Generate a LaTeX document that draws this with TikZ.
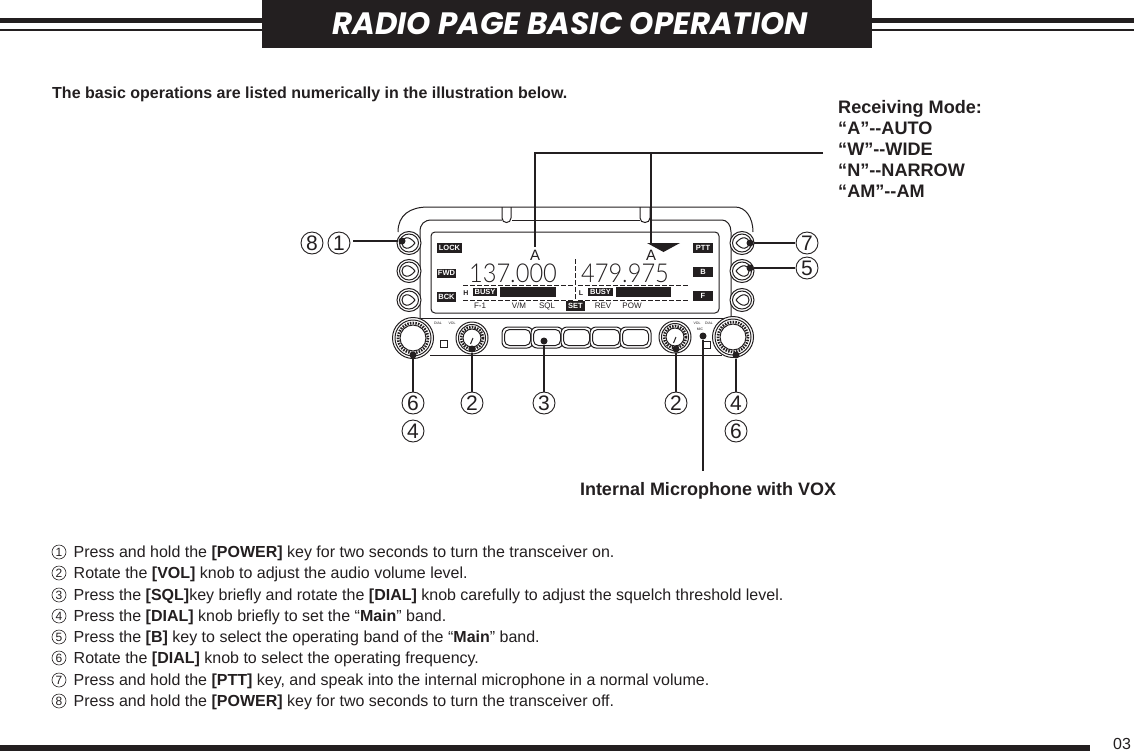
\documentclass[tikz,border=0pt]{standalone}
\usepackage{fontspec}
\setmainfont{Liberation Sans}
\newfontfamily\titlefont{Poppins}
\newfontfamily\segfont{Lato Light}
\usetikzlibrary{shapes.geometric,calc}
\definecolor{ink}{HTML}{231F20}
\newcommand{\px}[1]{\fontsize{#1}{#1}\selectfont}
\tikzset{
  x=1pt,y=-1pt,
  leader/.style={draw=ink,line width=2.6pt},
  dot/.style={circle,fill=ink,inner sep=0pt,minimum size=7pt},
  bignum/.style={circle,draw=ink,line width=.9pt,minimum size=22pt,inner sep=0pt,text=ink,font=\px{21}},
  steptext/.style={anchor=base west,inner sep=0pt,text=ink,font=\px{16}},
  smallnum/.style={circle,draw=ink,line width=.6pt,minimum size=14pt,inner sep=0pt,text=ink,font=\px{12}},
  label/.style={anchor=base west,inner sep=0pt,text=ink,font=\bfseries\px{18.1}},
  outline/.style={draw=ink,line width=1pt},
  inv/.style={fill=ink,text=white,inner sep=0pt,font=\bfseries\px{7.5}},
  lcd/.style={inner sep=0pt,text=ink,font=\px{8}},
  seg/.style={inner sep=0pt,text=ink,font=\segfont\px{26},xscale=.91},
  dashline/.style={draw=ink,line width=.9pt,dash pattern=on 5pt off 2pt},
  tiny/.style={inner sep=0pt,text=ink,font=\px{3.5}},
}
\newcommand{\sidebutton}[2]{%
  \draw[outline,fill=white] (#1,#2) ellipse (12 and 11.5);
  \draw[outline] (#1,#2) ellipse (9.5 and 9);
}
\newcommand{\knob}[4]{%
  \draw[outline,fill=white] (#1,#2) circle (#3);
  \draw[outline] (#1,#2) circle (#3-2.5);
  \draw[draw=ink,line width=2.6pt,dash pattern=on 1.5pt off 1.2pt] (#1,#2) circle (#4+2);
  \draw[outline] (#1,#2) circle (#4);
}
\newcommand{\softkey}[2]{%
  \draw[outline,rounded corners=6pt,fill=white] (#1,327) rectangle (#2,348);
  \draw[outline,rounded corners=5pt] (#1+2.5,329.5) rectangle (#2-2.5,345.5);
}
\begin{document}
\begin{tikzpicture}
\useasboundingbox (0,0) rectangle (1134,753);
\fill[white] (0,0) rectangle (1134,753);
% header
\fill[ink] (0,18) rectangle (262,23);
\fill[ink] (0,29) rectangle (262,31);
\fill[ink] (872,18) rectangle (1134,23);
\fill[ink] (872,29) rectangle (1134,31);
\node[fill=ink,minimum width=610pt,minimum height=48pt,inner sep=0pt,anchor=north west] (titlebox) at (262,0) {};
\node[text=white,inner sep=0pt,font=\titlefont\bfseries\itshape\px{30.9}] (title) at (570,24) {RADIO PAGE BASIC OPERATION};
\node[anchor=base west,inner sep=0pt,text=ink,font=\bfseries\px{16}] (intro) at (52,98) {The basic operations are listed numerically in the illustration below.};
% receiving mode
\node[label] (rm) at (838,113) {Receiving Mode:};
\node[label] (ra) at (838,134) {“A”-{}-AUTO};
\node[label] (rw) at (838,155) {“W”-{}-WIDE};
\node[label] (rn) at (838,176) {“N”-{}-NARROW};
\node[label] (ram) at (838,197) {“AM”-{}-AM};
% body
\draw[outline] (398,232) .. controls (398,215) and (410,207) .. (428,207) -- (735,207) .. controls (746,207) and (753,218) .. (753,232);
\draw[outline] (420,318) -- (420,232) .. controls (420,224) and (424,220) .. (432,220) -- (502,220);
\draw[outline] (512,220) -- (640,220);
\draw[outline] (650,220) -- (722,220) .. controls (727,220) and (731,225) .. (731,232) -- (731,318);
\draw[outline] (420,318) -- (731,318);
\draw[outline] (430,355) -- (722,355);
\draw[outline] (502,207) -- (502,218) .. controls (502,224) and (511,224) .. (511,218) -- (511,207);
\draw[outline] (640,207) -- (640,218) .. controls (640,224) and (650,224) .. (650,218) -- (650,207);
\draw[outline,rounded corners=4pt] (431,232) rectangle (719,313);
% side buttons
\sidebutton{409}{243}\sidebutton{409}{271}\sidebutton{409}{300}
\sidebutton{742}{243}\sidebutton{742}{271}\sidebutton{742}{300}
\foreach \y in {243,271,300}{\draw[outline] (415,\y) .. controls (409,\y-8) and (402,\y-6) .. (402,\y) .. controls (402,\y+6) and (409,\y+8) .. (415,\y);}
\foreach \y in {243,271,300}{\draw[outline] (736,\y) .. controls (742,\y-8) and (749,\y-6) .. (749,\y) .. controls (749,\y+6) and (742,\y+8) .. (736,\y);}
% inverted labels
\node[inv,minimum width=25pt,minimum height=10pt] (lock) at (449.5,248) {LOCK};
\node[inv,minimum width=19pt,minimum height=9pt] (fwd) at (446.5,273) {FWD};
\node[inv,minimum width=19pt,minimum height=10pt] (bck) at (446.5,297) {BCK};
\node[inv,minimum width=20pt,minimum height=10pt] (ptt) at (703,248) {PTT};
\node[inv,minimum width=20pt,minimum height=10pt] (bkey) at (703,272) {B};
\node[inv,minimum width=20pt,minimum height=10pt] (fkey) at (703,296) {F};
% lcd content
\node[inner sep=0pt,text=ink,font=\px{15}] (aleft) at (535,255) {A};
\node[inner sep=0pt,text=ink,font=\px{15}] (aright) at (651,255) {A};
\node[seg] (freqa) at (513,273) {137.000};
\node[seg] (freqb) at (625,273) {479.975};
\draw[dashline] (463,285) -- (573,285);
\draw[dashline] (463,300) -- (573,300);
\draw[dashline] (578,285) -- (688,285);
\draw[dashline] (578,300) -- (688,300);
\draw[dashline] (575,259) -- (575,300);
\node[inner sep=0pt,text=ink,font=\bfseries\px{7}] (hh) at (466,293) {H};
\node[inner sep=0pt,text=ink,font=\bfseries\px{7}] (ll) at (581,293) {L};
\node[inv,minimum width=24pt,minimum height=8.5pt] (busya) at (485,292) {BUSY};
\node[inv,minimum width=25pt,minimum height=8.5pt] (busyb) at (600.5,292) {BUSY};
\node[fill=ink,minimum width=56pt,minimum height=10pt,inner sep=0pt] (bara) at (528,292) {};
\node[fill=ink,minimum width=55pt,minimum height=10pt,inner sep=0pt] (barb) at (643.5,292) {};
\node[lcd] (f1) at (480,306) {F-1};
\node[lcd] (vm) at (519,306) {V/M};
\node[lcd] (sql) at (547,306) {SQL};
\node[inv,minimum width=19pt,minimum height=10pt] (setk) at (575.5,306) {SET};
\node[lcd] (rev) at (603,306) {REV};
\node[lcd] (pow) at (632,306) {POW};
\fill[ink] (647,243) -- (680,243) -- (663.5,252) -- cycle;
% centre keys
\softkey{502}{533}\softkey{531}{563}\softkey{561}{592}\softkey{590}{622}\softkey{620}{651}
% knobs
\knob{413}{338}{20.5}{13}
\knob{472}{338}{16}{9}
\knob{675}{337}{16}{9}
\knob{733}{337}{20.5}{13}
\draw[outline] (470.5,344) -- (473,338);
\draw[outline] (673.5,343) -- (676,337);
\node[tiny] (dl) at (438,323) {DIAL};
\node[tiny] (vl) at (452,323) {VOL};
\node[tiny] (vr) at (697,323) {VOL};
\node[tiny] (dr) at (709,323) {DIAL};
\node[tiny] (mc) at (700,329) {MIC};
\draw[outline,fill=white] (440.5,340.5) rectangle (447.5,347.5);
\draw[outline,fill=white] (703.5,341.5) rectangle (710.5,348.5);
% named anchor points
\coordinate (mtop) at (823,153);
\coordinate (mleft) at (535,153);
\coordinate (mright) at (651,153);
\coordinate (a1) at (535,247);
\coordinate (a2) at (651,245);
\node[dot] (d81) at (402,241) {};
\node[dot] (d7) at (750,243) {};
\node[dot] (d5) at (750,268) {};
\node[dot] (dk1) at (413,355) {};
\node[dot] (dk2) at (472,349) {};
\node[dot] (dk3) at (544,341) {};
\node[dot] (dk4) at (676,349) {};
\node[dot] (dk5) at (736,355) {};
\node[dot] (dm) at (703,336) {};
% callout numbers
\node[bignum] (n8) at (312,243) {8};
\node[bignum] (n1) at (339,243) {1};
\node[bignum] (n7) at (807,243) {7};
\node[bignum] (n5) at (807,268) {5};
\node[bignum] (n6a) at (413,403) {6};
\node[bignum] (n4a) at (413,431) {4};
\node[bignum] (n2a) at (472,403) {2};
\node[bignum] (n3) at (544,403) {3};
\node[bignum] (n2b) at (676,403) {2};
\node[bignum] (n4b) at (736,403) {4};
\node[bignum] (n6b) at (736,431) {6};
\node[inner sep=0pt,text=ink,font=\bfseries\px{18}] (mic) at (708,491) {Internal Microphone with VOX};
\coordinate (micend) at (703,471);
% connectors
\draw[leader] (mtop) -- (mleft) -- (a1);
\draw[leader] (mright) -- (a2);
\coordinate (c81) at (353,241);
\draw[leader] (c81) -- (d81);
\draw[leader] (d7) -- (795,243);
\draw[leader] (d5) -- (795,268);
\draw[leader] (dk1) -- (n6a.north);
\draw[leader] (dk2) -- (n2a.north);
\draw[leader] (dk3) -- (n3.north);
\draw[leader] (dk4) -- (n2b.north);
\draw[leader] (dk5) -- (n4b.north);
\draw[leader] (dm) -- (micend);
% steps
\foreach \i/\c/\y/\t in {
 s1/1/557/{Press and hold the \textbf{[POWER]} key for two seconds to turn the transceiver on.},
 s2/2/578/{Rotate the \textbf{[VOL]} knob to adjust the audio volume level.},
 s3/3/600/{Press the \textbf{[SQL]}key briefly and rotate the \textbf{[DIAL]} knob carefully to adjust the squelch threshold level.},
 s4/4/621/{Press the \textbf{[DIAL]} knob briefly to set the “\textbf{Main}” band.},
 s5/5/642/{Press the \textbf{[B]} key to select the operating band of the “\textbf{Main}” band.},
 s6/6/663/{Rotate the \textbf{[DIAL]} knob to select the operating frequency.},
 s7/7/685/{Press and hold the \textbf{[PTT]} key, and speak into the internal microphone in a normal volume.},
 s8/8/706/{Press and hold the \textbf{[POWER]} key for two seconds to turn the transceiver off.}}{
  \node[smallnum] (\i n) at (59,\y-5) {\c};
  \node[steptext] (\i) at (73.5,\y) {\t};
}
% footer
\fill[ink] (0,745) rectangle (1090,751);
\node[inner sep=0pt,text=ink,font=\px{16}] (page) at (1122,744) {03};
\end{tikzpicture}
\end{document}
